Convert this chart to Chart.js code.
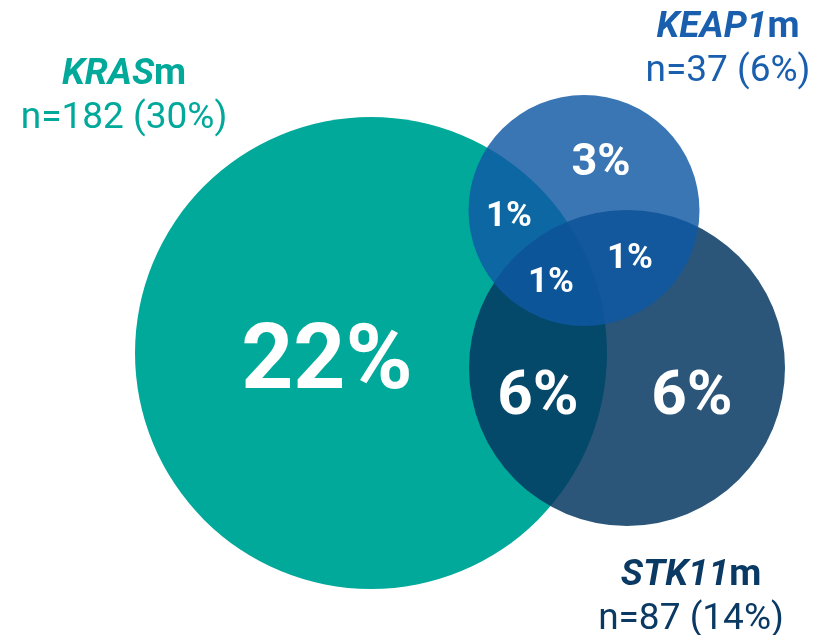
<!DOCTYPE html>
<html>
<head>
<meta charset="utf-8">
<script src="https://cdn.jsdelivr.net/npm/chart.js@4.4.1/dist/chart.umd.min.js"></script>
<style>
  html, body { margin: 0; padding: 0; background: #fff; }
  #wrap { width: 823px; height: 635px; position: relative; }
</style>
</head>
<body>
<div id="wrap"><canvas id="venn"></canvas></div>
<script>
// sets (drawing order: bottom to top)
var setNames = ['KRAS', 'STK11', 'KEAP1'];
var setCounts = [182, 87, 37];
var setShares = [30, 14, 6];

// share of patients in each region (%)
var regionNames = ['KRAS only', 'KEAP1 only', 'KRAS+KEAP1', 'KRAS+KEAP1+STK11', 'KEAP1+STK11', 'KRAS+STK11', 'STK11 only'];
var regionValues = [22, 3, 1, 1, 1, 6, 6];

// layout in chart units (1 unit = 10 px of the original)
var circleX = [37.1, 62.7, 58.4];
var circleY = [35.3, 36.8, 21.05];
var circleR = [23.6, 15.8, 11.55];
var regionX = [32.7, 60.1, 50.9, 55.1, 63.0, 53.8, 69.2];
var regionY = [35.6, 15.9, 21.35, 28.0, 25.6, 39.15, 39.15];
var regionFont = [91, 45, 35, 35, 35, 62, 62];
var titleX = [12.4, 69.1, 72.8];
var titleY = [8.35, 58.5, 3.7];

var fills = ['#00A99A', 'rgba(6,56,97,0.85)', 'rgba(15,88,164,0.82)'];
var textColors = ['#00A99A', '#0A3963', '#1A5FAD'];

var points = setNames.map(function(n, i) {
  return { x: circleX[i], y: circleY[i], rad: circleR[i] };
});

var vennText = {
  id: 'vennText',
  afterDatasetsDraw: function(chart) {
    var ctx = chart.ctx, sx = chart.scales.x, sy = chart.scales.y;
    ctx.save();
    ctx.textAlign = 'left';
    ctx.textBaseline = 'alphabetic';
    // region values
    ctx.fillStyle = '#ffffff';
    regionValues.forEach(function(v, i) {
      var size = regionFont[i];
      ctx.font = '700 ' + size + 'px Roboto';
      var txt = v + '%';
      var w = ctx.measureText(txt).width;
      ctx.fillText(txt, sx.getPixelForValue(regionX[i]) - w / 2,
        sy.getPixelForValue(regionY[i]) + size * 0.711 / 2);
    });
    // set titles: gene name in italics, "m" upright
    setNames.forEach(function(name, i) {
      var cx = sx.getPixelForValue(titleX[i]);
      var base = sy.getPixelForValue(titleY[i]);
      ctx.fillStyle = textColors[i];
      ctx.font = 'italic 700 37px Roboto';
      var w1 = ctx.measureText(name).width;
      ctx.font = '700 37px Roboto';
      var w2 = ctx.measureText('m').width;
      var left = cx - (w1 + w2) / 2;
      ctx.font = 'italic 700 37px Roboto';
      ctx.fillText(name, left, base);
      ctx.font = '700 37px Roboto';
      ctx.fillText('m', left + w1, base);
      ctx.font = '400 37px Roboto';
      var sub = 'n=' + setCounts[i] + ' (' + setShares[i] + '%)';
      var w3 = ctx.measureText(sub).width;
      ctx.fillText(sub, cx - w3 / 2, base + 44);
    });
    ctx.restore();
  }
};

new Chart(document.getElementById('venn').getContext('2d'), {
  type: 'scatter',
  data: {
    datasets: [{
      label: 'Venn',
      data: points,
      showLine: false,
      pointBackgroundColor: fills,
      pointBorderWidth: 0,
      pointHoverBorderWidth: 0,
      pointRadius: function(c) {
        var s = c.chart.scales.x;
        if (!c.raw || !s) return 0;
        var r = s.getPixelForValue(c.raw.x + c.raw.rad) - s.getPixelForValue(c.raw.x);
        return isFinite(r) ? r : 0;
      }
    }]
  },
  options: {
    responsive: true,
    maintainAspectRatio: false,
    animation: false,
    events: [],
    clip: false,
    layout: { padding: 0, autoPadding: false },
    plugins: {
      legend: { display: false },
      tooltip: { enabled: false }
    },
    scales: {
      x: { type: 'linear', min: 0, max: 82.3, display: false },
      y: { type: 'linear', min: 0, max: 63.5, reverse: true, display: false }
    }
  },
  plugins: [vennText]
});
</script>
</body>
</html>
